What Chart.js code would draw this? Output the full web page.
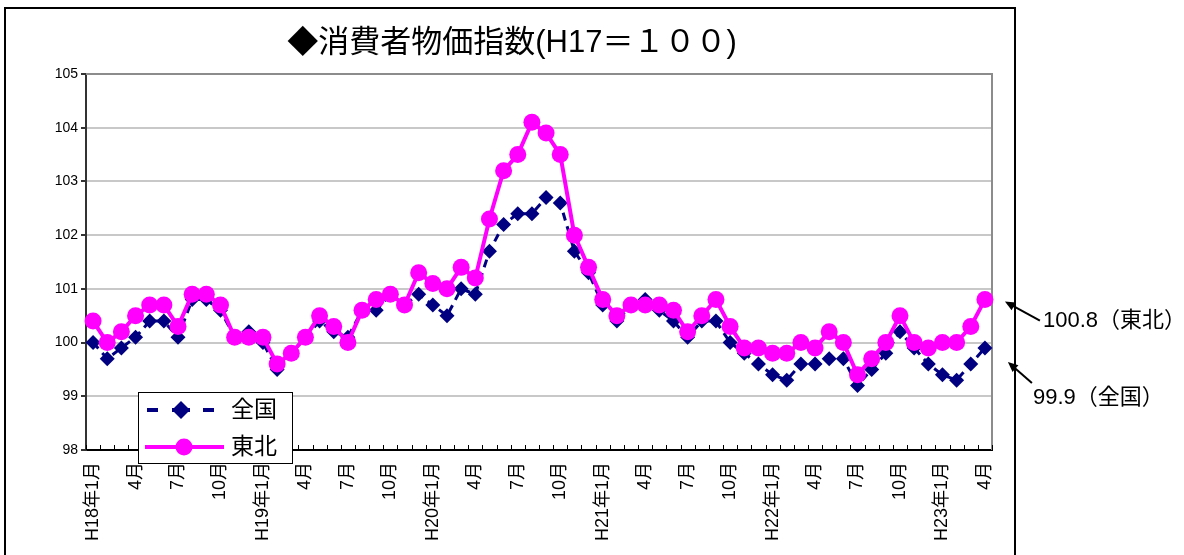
<!DOCTYPE html>
<html>
<head>
<meta charset="utf-8">
<script src="https://cdn.jsdelivr.net/npm/chart.js@4/dist/chart.umd.min.js"></script>
<style>
  html, body { margin: 0; padding: 0; background: #fff; }
  canvas { display: block; }
</style>
</head>
<body>
<canvas id="cpi" width="1184" height="555"></canvas>
<script>
// 月次カテゴリ（平成18年1月〜平成23年4月）
const months = [
  "H18年1月","2月","3月","4月","5月","6月","7月","8月","9月","10月","11月","12月",
  "H19年1月","2月","3月","4月","5月","6月","7月","8月","9月","10月","11月","12月",
  "H20年1月","2月","3月","4月","5月","6月","7月","8月","9月","10月","11月","12月",
  "H21年1月","2月","3月","4月","5月","6月","7月","8月","9月","10月","11月","12月",
  "H22年1月","2月","3月","4月","5月","6月","7月","8月","9月","10月","11月","12月",
  "H23年1月","2月","3月","4月"
];

// 全国 消費者物価指数（H17=100）
const zenkoku = [
  100.0, 99.7, 99.9, 100.1, 100.4, 100.4, 100.1, 100.8, 100.8, 100.6, 100.1, 100.2,
  100.0, 99.5, 99.8, 100.1, 100.4, 100.2, 100.1, 100.6, 100.6, 100.9, 100.7, 100.9,
  100.7, 100.5, 101.0, 100.9, 101.7, 102.2, 102.4, 102.4, 102.7, 102.6, 101.7, 101.3,
  100.7, 100.4, 100.7, 100.8, 100.6, 100.4, 100.1, 100.4, 100.4, 100.0, 99.8, 99.6,
  99.4, 99.3, 99.6, 99.6, 99.7, 99.7, 99.2, 99.5, 99.8, 100.2, 99.9, 99.6,
  99.4, 99.3, 99.6, 99.9
];

// 東北 消費者物価指数（H17=100）
const tohoku = [
  100.4, 100.0, 100.2, 100.5, 100.7, 100.7, 100.3, 100.9, 100.9, 100.7, 100.1, 100.1,
  100.1, 99.6, 99.8, 100.1, 100.5, 100.3, 100.0, 100.6, 100.8, 100.9, 100.7, 101.3,
  101.1, 101.0, 101.4, 101.2, 102.3, 103.2, 103.5, 104.1, 103.9, 103.5, 102.0, 101.4,
  100.8, 100.5, 100.7, 100.7, 100.7, 100.6, 100.2, 100.5, 100.8, 100.3, 99.9, 99.9,
  99.8, 99.8, 100.0, 99.9, 100.2, 100.0, 99.4, 99.7, 100.0, 100.5, 100.0, 99.9,
  100.0, 100.0, 100.3, 100.8
];

const yMin = 98, yMax = 105;
const titleText = "◆消費者物価指数(H17＝１００)";
const seriesNames = ["全国", "東北"];

const FONT = "'Liberation Sans', 'Noto Sans CJK JP', sans-serif";
const NAVY = "#000080";
const MAGENTA = "#ff00ff";

function arrow(ctx, x1, y1, x2, y2) {
  const ang = Math.atan2(y2 - y1, x2 - x1);
  const head = 11, spread = 0.42;
  ctx.beginPath();
  ctx.moveTo(x1, y1);
  ctx.lineTo(x2 - Math.cos(ang) * 6, y2 - Math.sin(ang) * 6);
  ctx.stroke();
  ctx.beginPath();
  ctx.moveTo(x2, y2);
  ctx.lineTo(x2 - head * Math.cos(ang - spread), y2 - head * Math.sin(ang - spread));
  ctx.lineTo(x2 - head * Math.cos(ang + spread), y2 - head * Math.sin(ang + spread));
  ctx.closePath();
  ctx.fill();
}

// 外枠・タイトル・プロット枠・目盛・凡例・注記
const decorations = {
  id: "decorations",
  beforeDraw(chart) {
    const ctx = chart.ctx;
    ctx.save();
    ctx.fillStyle = "#fff";
    ctx.fillRect(0, 0, chart.width, chart.height);
    ctx.strokeStyle = "#000";
    ctx.lineWidth = 2;
    ctx.strokeRect(5, 8, 1010, 600);
    ctx.fillStyle = "#000";
    ctx.font = "31px " + FONT;
    ctx.textAlign = "center";
    ctx.textBaseline = "middle";
    ctx.fillText(titleText, 512, 43);
    ctx.restore();
  },
  beforeDatasetsDraw(chart) {
    const { ctx, chartArea: a, scales } = chart;
    ctx.save();
    // 上・右の枠線
    ctx.strokeStyle = "#8c8c8c";
    ctx.lineWidth = 2;
    ctx.beginPath();
    ctx.moveTo(a.left, a.top);
    ctx.lineTo(a.right, a.top);
    ctx.lineTo(a.right, a.bottom);
    ctx.stroke();
    // 横軸の内向き目盛（月の区切り）
    const x = scales.x;
    const step = (a.right - a.left) / months.length;
    ctx.strokeStyle = "#000";
    ctx.lineWidth = 1;
    ctx.beginPath();
    for (let i = 0; i <= months.length; i++) {
      const px = Math.round(x.getPixelForValue(i) - step / 2) + 0.5;
      ctx.moveTo(px, a.bottom);
      ctx.lineTo(px, a.bottom - 5);
    }
    ctx.stroke();
    ctx.restore();
  },
  afterDraw(chart) {
    const ctx = chart.ctx;
    ctx.save();
    // 凡例
    const lx = 138, ly = 392, lw = 154, lh = 71;
    ctx.fillStyle = "#fff";
    ctx.fillRect(lx, ly, lw, lh);
    ctx.strokeStyle = "#000";
    ctx.lineWidth = 1;
    ctx.strokeRect(lx + 0.5, ly + 0.5, lw, lh);

    const r1 = ly + 18, r2 = ly + 55;
    ctx.strokeStyle = NAVY;
    ctx.fillStyle = NAVY;
    ctx.lineWidth = 4;
    ctx.beginPath();
    ctx.moveTo(147, r1);
    ctx.lineTo(158, r1);
    ctx.moveTo(203, r1);
    ctx.lineTo(214, r1);
    ctx.moveTo(172, r1);
    ctx.lineTo(190, r1);
    ctx.stroke();
    ctx.beginPath();
    ctx.moveTo(181, r1 - 9);
    ctx.lineTo(190, r1);
    ctx.lineTo(181, r1 + 9);
    ctx.lineTo(172, r1);
    ctx.closePath();
    ctx.fill();

    ctx.strokeStyle = MAGENTA;
    ctx.fillStyle = MAGENTA;
    ctx.lineWidth = 4;
    ctx.beginPath();
    ctx.moveTo(145, r2);
    ctx.lineTo(224, r2);
    ctx.stroke();
    ctx.beginPath();
    ctx.arc(184, r2, 8.5, 0, Math.PI * 2);
    ctx.fill();

    ctx.fillStyle = "#000";
    ctx.font = "23px " + FONT;
    ctx.textAlign = "left";
    ctx.textBaseline = "middle";
    ctx.fillText(seriesNames[0], 231, r1 + 1);
    ctx.fillText(seriesNames[1], 231, r2 + 1);

    // 最新値の注記
    const last = months.length - 1;
    const pT = chart.getDatasetMeta(1).data[last];
    const pZ = chart.getDatasetMeta(0).data[last];
    ctx.strokeStyle = "#000";
    ctx.fillStyle = "#000";
    ctx.lineWidth = 2;
    arrow(ctx, pT.x + 55, pT.y + 21, pT.x + 20, pT.y + 2);
    arrow(ctx, pZ.x + 47, pZ.y + 35, pZ.x + 23, pZ.y + 14);
    ctx.font = "22px " + FONT;
    ctx.textAlign = "left";
    ctx.textBaseline = "middle";
    ctx.fillText(tohoku[last].toFixed(1) + "（" + seriesNames[1] + "）", pT.x + 58, pT.y + 21);
    ctx.fillText(zenkoku[last].toFixed(1) + "（" + seriesNames[0] + "）", pZ.x + 48, pZ.y + 50);
    ctx.restore();
  }
};

new Chart(document.getElementById("cpi"), {
  type: "line",
  data: {
    labels: months,
    datasets: [
      {
        label: seriesNames[0],
        data: zenkoku,
        order: 1,
        borderColor: NAVY,
        backgroundColor: NAVY,
        borderWidth: 3,
        borderDash: [8, 6],
        pointStyle: "rectRot",
        pointRadius: 7.5,
        pointBorderWidth: 0,
        pointBackgroundColor: NAVY,
        tension: 0
      },
      {
        label: seriesNames[1],
        data: tohoku,
        order: 0,
        borderColor: MAGENTA,
        backgroundColor: MAGENTA,
        borderWidth: 4,
        pointStyle: "circle",
        pointRadius: 8.5,
        pointBorderWidth: 0,
        pointBackgroundColor: MAGENTA,
        tension: 0
      }
    ]
  },
  options: {
    responsive: false,
    devicePixelRatio: 1,
    animation: false,
    events: [],
    layout: { padding: { top: 74, right: 192, bottom: 0, left: 0 } },
    plugins: {
      legend: { display: false },
      title: { display: false },
      tooltip: { enabled: false }
    },
    scales: {
      x: {
        type: "category",
        offset: true,
        afterFit(scale) { scale.height = 105; },
        grid: { display: true, drawOnChartArea: false, drawTicks: false, offset: true },
        border: { display: true, color: "#000", width: 2 },
        ticks: {
          autoSkip: false,
          maxRotation: 90,
          minRotation: 90,
          padding: 12,
          color: "#000",
          font: { family: FONT, size: 18 },
          callback(value, index) { return index % 3 === 0 ? months[index] : ""; }
        }
      },
      y: {
        min: yMin,
        max: yMax,
        afterFit(scale) { scale.width = 86; },
        grid: { color: "#c8c8c8", lineWidth: 2, tickColor: "#333", tickLength: 5 },
        border: { display: true, color: "#333", width: 2 },
        ticks: {
          stepSize: 1,
          padding: 3,
          color: "#000",
          font: { family: FONT, size: 14 }
        }
      }
    }
  },
  plugins: [decorations]
});
</script>
</body>
</html>
